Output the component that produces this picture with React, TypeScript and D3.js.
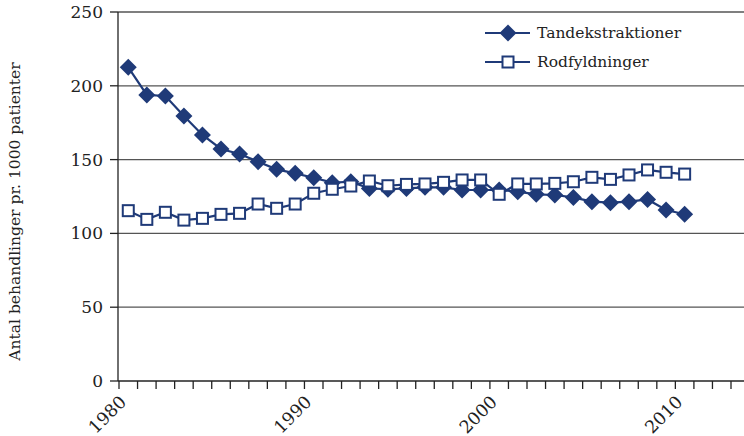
import React from "react";
import * as d3 from "d3";

const years = d3.range(1980, 2011);
const axisYears = d3.range(1980, 2013);
const tandekstraktioner = [212.5, 193.8, 193.1, 179.5, 166.7, 157.2, 153.8, 148.6, 143.4, 140.7, 137.7, 134.4, 135, 130.5, 129.9, 130.5, 131.2, 131.2, 129.4, 129.4, 129.4, 128.3, 126.5, 126, 124.4, 121.5, 120.8, 121.5, 123, 115.8, 113];
const rodfyldninger = [115.4, 109.5, 114.3, 109, 110.2, 112.9, 113.6, 119.9, 117, 119.9, 127.2, 129.9, 132.1, 135.5, 132.3, 133.2, 133.5, 134.6, 136.2, 136.2, 126.5, 133.5, 133.5, 133.9, 135, 138, 136.6, 139.6, 143, 141.4, 140.2];
const yTicks = [0, 50, 100, 150, 200, 250];
const xLabels = [1980, 1990, 2000, 2010];
const seriesNames = ["Tandekstraktioner", "Rodfyldninger"];

const COLOR = "#1f3a78";
const FONT = "DejaVu Serif";

export default function App() {
  const W = 744, H = 436;
  const x0 = 119, x1 = 731, yTop = 12, yBot = 381;
  const x = d3.scaleBand<number>().domain(axisYears).range([x0, x1]);
  const y = d3.scaleLinear().domain([0, 250]).range([yBot, yTop]);
  const cx = (yr: number) => (x(yr) as number) + x.bandwidth() / 2;
  const line = d3.line<number>().x((_, i) => cx(years[i])).y((d) => y(d));
  const boundaries = axisYears.map((yr) => x(yr) as number).concat([x1]);
  const ds = 8.5;
  const sq = 5.5;

  return (
    <svg width={W} height={H} style={{ position: "absolute", left: 0, top: 0, background: "#fff" }} fontFamily={FONT}>
      {yTicks.filter((t) => t > 0).map((t) => (
        <line key={"g" + t} x1={x0 - 1} x2={W} y1={y(t)} y2={y(t)} stroke="#555" strokeWidth={1.3} />
      ))}
      <line x1={x0 - 1} x2={x0 - 1} y1={yTop} y2={yBot} stroke="#222" strokeWidth={1.3} />
      <line x1={x0 - 1} x2={W} y1={yBot} y2={yBot} stroke="#222" strokeWidth={1.3} />
      {yTicks.map((t) => (
        <g key={"yt" + t}>
          <line x1={x0 - 9} x2={x0 - 1} y1={y(t)} y2={y(t)} stroke="#222" strokeWidth={1.3} />
          <text x={103} y={y(t)} dy="0.35em" textAnchor="end" fontSize={17} fill="#222">{t}</text>
        </g>
      ))}
      {boundaries.map((b, i) => (
        <line key={"xt" + i} x1={b} x2={b} y1={yBot} y2={yBot + 8} stroke="#222" strokeWidth={1.3} />
      ))}
      {xLabels.map((yr) => (
        <text key={"xl" + yr} transform={`translate(${cx(yr) - 1},${yBot + 22}) rotate(-45)`} textAnchor="end" fontSize={17.5} fill="#222">{yr}</text>
      ))}
      <text transform={`translate(20,${(yTop + yBot) / 2 + 15}) rotate(-90)`} textAnchor="middle" fontSize={15.5} fill="#222">
        Antal behandlinger pr. 1000 patienter
      </text>
      <path d={line(tandekstraktioner) || ""} fill="none" stroke={COLOR} strokeWidth={2.2} />
      <path d={line(rodfyldninger) || ""} fill="none" stroke={COLOR} strokeWidth={2.2} />
      {tandekstraktioner.map((v, i) => (
        <path key={"d" + i} d={`M${cx(years[i])},${y(v) - ds}L${cx(years[i]) + ds},${y(v)}L${cx(years[i])},${y(v) + ds}L${cx(years[i]) - ds},${y(v)}Z`} fill={COLOR} />
      ))}
      {rodfyldninger.map((v, i) => (
        <rect key={"s" + i} x={cx(years[i]) - sq} y={y(v) - sq} width={sq * 2} height={sq * 2} fill="#fff" stroke={COLOR} strokeWidth={2} />
      ))}
      <g>
        <line x1={485} x2={530} y1={33} y2={33} stroke={COLOR} strokeWidth={2.2} />
        <path d={`M508,${33 - ds}L${508 + ds},33L508,${33 + ds}L${508 - ds},33Z`} fill={COLOR} />
        <text x={537} y={33} dy="0.35em" fontSize={15.5} fill="#222">{seriesNames[0]}</text>
        <line x1={485} x2={530} y1={62} y2={62} stroke={COLOR} strokeWidth={2.2} />
        <rect x={508 - sq} y={62 - sq} width={sq * 2} height={sq * 2} fill="#fff" stroke={COLOR} strokeWidth={2} />
        <text x={537} y={62} dy="0.35em" fontSize={15.5} fill="#222">{seriesNames[1]}</text>
      </g>
    </svg>
  );
}
